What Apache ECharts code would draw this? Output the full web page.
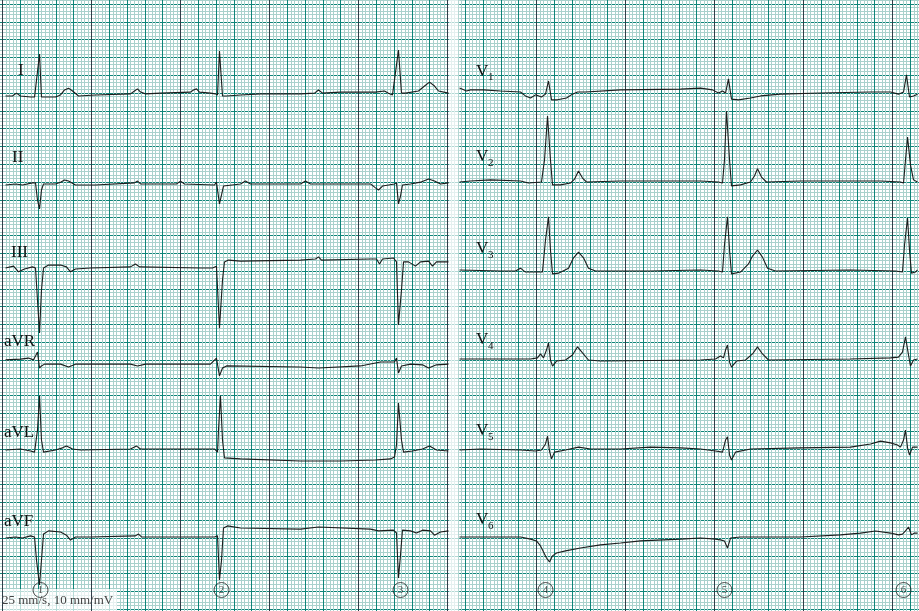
<!DOCTYPE html>
<html><head><meta charset="utf-8">
<script src="https://cdn.jsdelivr.net/npm/echarts@6/dist/echarts.min.js"></script>
<style>html,body{margin:0;padding:0;background:#fff}#c{width:919px;height:611px}</style>
</head><body><div id="c"></div>
<script>
// ---- DATA: time in seconds (25 mm/s), amplitude in mV (10 mm/mV) ----
const leadNames = ['I','II','III','aVR','aVL','aVF','V1','V2','V3','V4','V5','V6'];

const leadI = [[0.034,0],[0.112,0],[0.157,0.08],[0.202,0],[0.315,-0.03],[0.360,-0.03],[0.382,-0.06],[0.416,1.18],[0.438,-0.03],[0.472,-0.03],[0.596,-0.03],[0.652,0.03],[0.697,0.17],[0.742,0.22],[0.787,0.14],[0.854,0],[1.045,0.03],[1.438,0.06],[1.483,0.14],[1.517,0.20],[1.551,0.11],[1.607,0.06],[1.775,0.08],[2.112,0.11],[2.146,0.17],[2.180,0.20],[2.213,0.11],[2.337,0.08],[2.393,0.06],[2.416,0.03],[2.438,1.26],[2.472,0],[2.517,0],[2.674,0.03],[2.899,0.06],[3.348,0.06],[3.506,0.08],[3.551,0.17],[3.596,0.08],[3.798,0.11],[4.191,0.11],[4.292,0.14],[4.337,0.08],[4.382,0.03],[4.449,1.29],[4.483,0.08],[4.528,0.08],[4.674,0.14],[4.742,0.28],[4.798,0.39],[4.854,0.28],[4.899,0.14],[5.011,0.08]];

const leadII = [[0.034,0],[0.146,0.03],[0.225,0],[0.337,0.06],[0.371,0.06],[0.393,-0.42],[0.416,-0.67],[0.438,-0.14],[0.461,0.03],[0.596,0.03],[0.652,0.08],[0.697,0.14],[0.742,0.11],[0.820,0],[1.045,0],[1.483,0.06],[1.517,0.11],[1.551,0.03],[1.955,0.03],[2.000,0.11],[2.045,0.03],[2.382,0],[2.404,0.08],[2.438,-0.53],[2.461,-0.28],[2.483,-0.03],[2.674,0.03],[2.730,0.11],[2.787,0.03],[3.348,0.03],[3.404,0.11],[3.461,0.03],[4.135,0.03],[4.191,-0.08],[4.225,-0.14],[4.270,-0.03],[4.404,0.03],[4.427,0.06],[4.449,-0.53],[4.472,-0.31],[4.494,0],[4.584,0.03],[4.697,0.08],[4.787,0.17],[4.854,0.11],[4.921,0.03],[5.011,0.06]];

const leadIII = [[0.034,0.03],[0.124,0.08],[0.180,-0.08],[0.247,0],[0.337,0.06],[0.371,0.03],[0.393,-0.87],[0.416,-1.80],[0.438,-0.59],[0.461,0.03],[0.517,0.11],[0.652,0.11],[0.719,0.06],[0.764,-0.08],[0.820,0],[0.989,0.03],[1.438,0.06],[1.494,0.14],[1.539,0.06],[2.225,0.03],[2.360,0.03],[2.404,0.08],[2.438,-1.66],[2.472,-0.31],[2.494,0.20],[2.539,0.25],[2.674,0.22],[3.348,0.25],[3.517,0.28],[3.551,0.34],[3.584,0.25],[4.135,0.28],[4.202,0.28],[4.236,0.14],[4.270,0.28],[4.393,0.31],[4.427,0.20],[4.449,-1.57],[4.483,-0.59],[4.506,0.20],[4.562,0.20],[4.640,0.08],[4.697,0.20],[4.787,0.22],[4.831,0.08],[4.876,0.20],[5.011,0.20]];

const leadAVR = [[0.034,0.06],[0.202,0.08],[0.292,0.11],[0.348,0.06],[0.371,0.17],[0.393,0.28],[0.416,-0.17],[0.438,-0.11],[0.472,-0.06],[0.652,-0.06],[0.742,-0.14],[0.820,-0.06],[1.438,-0.06],[1.517,-0.11],[1.607,-0.06],[2.337,-0.06],[2.404,0.11],[2.438,-0.39],[2.472,-0.17],[2.517,-0.11],[3.348,-0.14],[3.551,-0.17],[4.022,-0.11],[4.247,0],[4.404,0],[4.427,0.11],[4.449,-0.31],[4.483,-0.11],[4.584,-0.06],[4.719,-0.08],[4.787,-0.17],[4.876,-0.08],[5.011,-0.06]];

const leadAVL = [[0.034,0],[0.202,0.03],[0.315,-0.03],[0.360,-0.06],[0.393,0.56],[0.416,1.52],[0.438,0.28],[0.461,-0.06],[0.596,0],[0.674,0.06],[0.719,0.11],[0.787,0.03],[0.876,0],[1.438,0.03],[1.506,0.11],[1.551,0.03],[2.225,0.03],[2.382,0.03],[2.416,-0.06],[2.427,0.56],[2.449,1.52],[2.472,0.28],[2.494,-0.22],[2.674,-0.25],[3.348,-0.31],[3.798,-0.31],[4.191,-0.28],[4.360,-0.25],[4.404,-0.20],[4.427,0.14],[4.449,1.32],[4.483,0.28],[4.506,-0.06],[4.607,-0.03],[4.719,0.03],[4.798,0.11],[4.876,0],[5.011,-0.03]];

const leadAVF = [[0.034,0],[0.146,0.03],[0.225,0],[0.315,0.06],[0.360,0.03],[0.382,-0.62],[0.416,-1.32],[0.438,-0.62],[0.461,0.11],[0.517,0.20],[0.652,0.17],[0.719,0.08],[0.764,-0.06],[0.820,0.03],[0.989,0.03],[1.494,0.06],[1.528,0.11],[1.562,0.03],[2.225,0.03],[2.382,0.03],[2.416,0.06],[2.438,-1.18],[2.461,-0.62],[2.483,0.28],[2.528,0.34],[2.674,0.28],[3.348,0.25],[3.551,0.31],[4.135,0.25],[4.225,0.20],[4.393,0.22],[4.427,0.14],[4.449,-1.12],[4.472,-0.48],[4.494,0.22],[4.584,0.20],[4.652,0.14],[4.719,0.22],[4.809,0.20],[4.854,0.08],[4.921,0.17],[5.011,0.20]];

const leadV1 = [[5.135,0.11],[5.169,0.08],[5.213,0.03],[5.258,0.06],[5.404,0.06],[5.596,0.03],[5.820,0],[5.876,-0.11],[5.933,-0.17],[5.989,-0.08],[6.056,-0.14],[6.101,-0.06],[6.135,0.31],[6.169,-0.22],[6.236,-0.22],[6.337,-0.17],[6.404,-0.06],[6.461,0],[6.551,0],[6.944,0.06],[7.618,0.08],[7.843,0.11],[7.978,0.06],[8.045,-0.03],[8.090,0.03],[8.124,-0.03],[8.157,0.37],[8.191,-0.20],[8.270,-0.22],[8.404,-0.17],[8.517,-0.11],[8.742,-0.06],[9.191,-0.03],[9.753,0],[9.978,0],[10.067,-0.06],[10.124,0],[10.157,0.48],[10.191,-0.14],[10.236,-0.11],[10.281,-0.06]];

const leadV2 = [[5.135,0],[5.258,0.03],[5.483,0.06],[5.820,0.03],[5.910,-0.03],[6.056,0],[6.090,0.62],[6.124,1.85],[6.157,0.62],[6.180,-0.08],[6.270,-0.08],[6.382,-0.03],[6.427,0.08],[6.472,0.31],[6.517,0.11],[6.562,0],[6.944,0.03],[7.843,0.03],[8.045,0],[8.090,-0.03],[8.112,0.62],[8.135,1.99],[8.169,0.62],[8.191,-0.11],[8.292,-0.08],[8.404,0],[8.449,0.17],[8.483,0.37],[8.528,0.14],[8.584,0],[8.966,0.03],[9.865,0.03],[10.090,0],[10.124,-0.03],[10.146,0.62],[10.169,1.26],[10.202,0.48],[10.236,0.06],[10.281,0]];

const leadV3 = [[5.135,0.03],[5.596,0],[5.764,0],[5.820,0.08],[5.876,-0.03],[6.067,-0.03],[6.101,0.87],[6.135,1.52],[6.157,0.59],[6.180,-0.08],[6.247,-0.06],[6.360,0.08],[6.416,0.37],[6.472,0.53],[6.528,0.37],[6.584,0.08],[6.663,0],[7.281,0],[7.843,0.03],[8.045,0],[8.090,-0.03],[8.112,0.73],[8.146,1.52],[8.169,0.59],[8.191,-0.08],[8.292,-0.03],[8.382,0.20],[8.427,0.42],[8.483,0.59],[8.539,0.39],[8.596,0.08],[8.685,0],[9.528,0.03],[10.034,0],[10.112,-0.03],[10.135,0.73],[10.169,1.49],[10.191,0.59],[10.213,-0.06],[10.258,-0.03],[10.281,0.03]];

const leadV4 = [[5.135,0.03],[5.933,0.03],[6.011,0.06],[6.045,0.17],[6.079,0.06],[6.112,0.28],[6.135,0.48],[6.157,0],[6.180,-0.17],[6.225,-0.03],[6.326,0],[6.404,0.14],[6.461,0.37],[6.517,0.20],[6.584,0],[6.719,-0.03],[7.843,0],[8.011,0.03],[8.067,0.11],[8.101,0.06],[8.124,0.28],[8.146,0.42],[8.169,-0.06],[8.191,-0.20],[8.247,-0.03],[8.348,0],[8.427,0.17],[8.483,0.37],[8.539,0.17],[8.607,0],[9.528,0.03],[9.978,0.06],[10.067,0.08],[10.112,0.22],[10.146,0.65],[10.180,0.14],[10.202,-0.17],[10.236,0],[10.281,0.03]];

const leadV5 = [[5.135,0],[5.371,0.03],[5.820,0],[5.989,-0.03],[6.056,0],[6.101,0.17],[6.124,0.39],[6.146,-0.03],[6.169,-0.25],[6.202,-0.06],[6.326,0],[6.472,0.08],[6.607,0.03],[6.944,0.03],[7.281,0.08],[7.618,0.06],[7.843,0.03],[8.011,-0.03],[8.090,-0.06],[8.124,0.28],[8.146,0.37],[8.169,-0.14],[8.191,-0.28],[8.236,-0.06],[8.404,0.03],[8.966,0.06],[9.528,0.08],[9.753,0.17],[9.865,0.25],[9.978,0.20],[10.056,0.14],[10.090,0.08],[10.124,0.28],[10.146,0.56],[10.169,0.06],[10.191,-0.14],[10.225,0.08],[10.281,0.08]];

const leadV6 = [[5.135,0],[5.820,0],[5.933,-0.06],[6.000,-0.11],[6.045,-0.25],[6.079,-0.42],[6.112,-0.59],[6.146,-0.70],[6.180,-0.53],[6.225,-0.45],[6.326,-0.39],[6.494,-0.31],[6.719,-0.22],[6.944,-0.17],[7.169,-0.11],[7.618,-0.06],[7.843,-0.03],[8.011,-0.06],[8.067,-0.08],[8.112,-0.11],[8.146,-0.31],[8.180,-0.03],[8.292,0],[8.966,0],[9.416,0.06],[9.640,0.11],[9.809,0.17],[9.978,0.11],[10.067,0.06],[10.112,0.08],[10.146,0.17],[10.180,0.28],[10.213,0.06],[10.247,0.11],[10.281,0.11]];

const beatTimes = [0.427, 2.461, 4.472, 6.101, 8.112, 10.124];
const beatLabels = ['1','2','3','4','5','6'];
const secondLines = [0,1,2,3,4,5,6,7,8,9,10];
const noteText = '25 mm/s, 10 mm/mV';

// ---- LAYOUT / STYLE ----
const leads = [leadI, leadII, leadIII, leadAVR, leadAVL, leadAVF, leadV1, leadV2, leadV3, leadV4, leadV5, leadV6];
const PX_S = 89, PX_MV = 35.6, X0 = 2.5, Y0 = 4;
const baselinesPx = [96,185,269,362,450,538, 92,182,271,360,450,537];
const labelPos = [[18,71],[12,157.5],[11,252.5],[4,342],[4,433],[4,521.5],[476,71.5],[476,157],[476,249],[476,340],[476,431],[476,520]];
const C_MAJOR = '#0f8579', C_MINOR = '#a9d1cc', C_DARK = '#2f3d48', C_TRACE = '#1c1c1c';
const SERIF = '"Liberation Serif", "DejaVu Serif", serif';

const grids = [], xAxes = [], yAxes = [], series = [];
const G = (o) => Object.assign({outerBoundsMode:'none', containLabel:false}, o);
// background paper: 0.2 s / 0.5 mV major, 0.04 s / 0.1 mV minor
grids.push(G({left: X0 - 0.2*PX_S, top: Y0 - 0.5*PX_MV, width: 10.6*PX_S, height: 18*PX_MV}));
xAxes.push({gridIndex:0, type:'value', min:-0.2, max:10.4, interval:0.2,
  axisLine:{show:false}, axisTick:{show:false}, axisLabel:{show:false},
  splitLine:{show:true, lineStyle:{color:C_MAJOR, width:1}},
  minorTick:{show:false, splitNumber:5}, minorSplitLine:{show:true, lineStyle:{color:C_MINOR, width:1}}});
yAxes.push({gridIndex:0, type:'value', min:0, max:18, interval:0.5,
  axisLine:{show:false}, axisTick:{show:false}, axisLabel:{show:false},
  splitLine:{show:true, lineStyle:{color:C_MAJOR, width:1}},
  minorTick:{show:false, splitNumber:5}, minorSplitLine:{show:true, lineStyle:{color:C_MINOR, width:1}}});

// darker line every second + faded strip between the two panels
series.push({type:'line', xAxisIndex:0, yAxisIndex:0, data:[[-1,-1]], silent:true, z:3, symbol:'none',
  lineStyle:{opacity:0},
  markLine:{silent:true, symbol:['none','none'], animation:false, label:{show:false}, z:4,
    lineStyle:{color:C_DARK, width:1, type:'solid', opacity:1},
    data: secondLines.map(t => ({xAxis:t}))},
  markArea:{silent:true, itemStyle:{color:'rgba(255,255,255,0.68)'}, data:[[{xAxis:5.015, yAxis:0},{xAxis:5.12, yAxis:18}]]}});

leads.forEach((d, i) => {
  const gi = grids.length;
  grids.push(G({left: X0, top: baselinesPx[i] - 2.5*PX_MV, width: 10.4*PX_S, height: 5*PX_MV}));
  xAxes.push({gridIndex:gi, type:'value', min:0, max:10.4, show:false, splitLine:{show:false}});
  yAxes.push({gridIndex:gi, type:'value', min:-2.5, max:2.5, show:false, splitLine:{show:false}});
  series.push({type:'line', name:leadNames[i], xAxisIndex:gi, yAxisIndex:gi, data:d, symbol:'none', silent:true, z:5,
    lineStyle:{color:C_TRACE, width:1.1}, clip:false});
});

// beat markers
{
  const gi = grids.length;
  grids.push(G({left: X0, top: 580, width: 10.4*PX_S, height: 20}));
  xAxes.push({gridIndex:gi, type:'value', min:0, max:10.4, show:false, splitLine:{show:false}});
  yAxes.push({gridIndex:gi, type:'value', min:-1, max:1, show:false, splitLine:{show:false}});
  series.push({type:'scatter', xAxisIndex:gi, yAxisIndex:gi, silent:true, z:6,
    data: beatTimes.map((t, k) => ({value:[t, 0], name: beatLabels[k]})),
    symbol:'circle', symbolSize:15,
    itemStyle:{color:'rgba(255,255,255,0)', borderColor:'#222', borderWidth:1},
    label:{show:true, position:'inside', formatter:'{b}', color:'#222', fontSize:11, fontFamily:SERIF}});
}

const graphics = [];
leadNames.forEach((n, i) => {
  const [x, y] = labelPos[i];
  if (n[0] === 'V') {
    graphics.push({type:'text', x:x, y:y, z:10, style:{text:'V', font:'17px ' + SERIF, fill:'#111', verticalAlign:'middle'}});
    graphics.push({type:'text', x:x + 12, y:y + 6, z:10, style:{text:n.slice(1), font:'11px ' + SERIF, fill:'#111', verticalAlign:'middle'}});
  } else {
    graphics.push({type:'text', x:x, y:y, z:10, style:{text:n, font:'17px ' + SERIF, fill:'#111', verticalAlign:'middle'}});
  }
});
graphics.push({type:'rect', shape:{x:0, y:589, width:117, height:22}, z:4, style:{fill:'rgba(255,255,255,0.7)'}});
graphics.push({type:'text', x:2, y:600.5, z:10, style:{text:noteText, font:'13px ' + SERIF, fill:'#444', verticalAlign:'middle'}});

const chart = echarts.init(document.getElementById('c'), null, {renderer:'canvas'});
chart.setOption({
  animation:false, backgroundColor:'#fff',
  grid:grids, xAxis:xAxes, yAxis:yAxes, series:series, graphic:graphics
});
</script></body></html>
